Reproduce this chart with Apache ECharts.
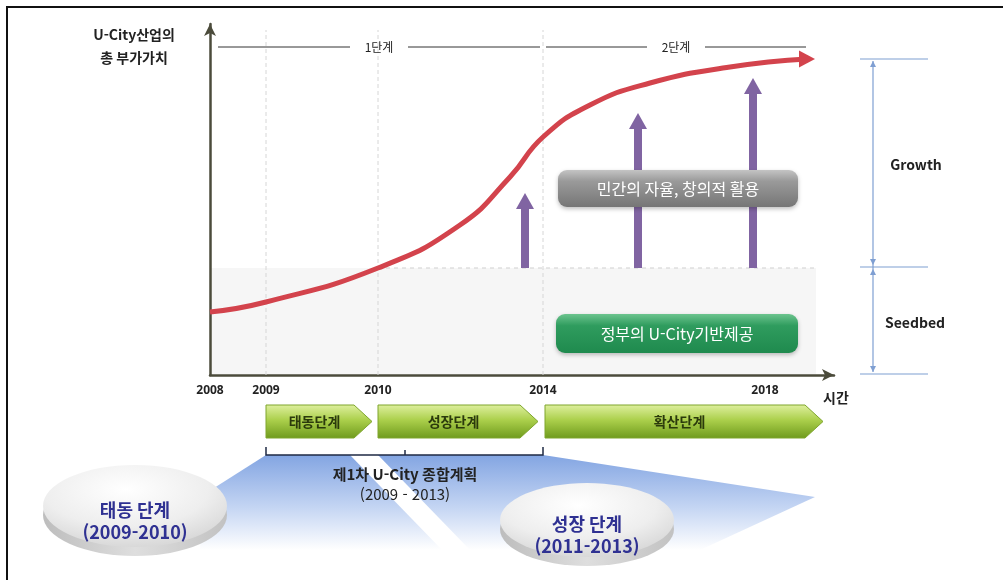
<!DOCTYPE html>
<html lang="ko">
  <head>
    <meta charset="UTF-8" />
    <title>U-City 산업 단계</title>
    <script src="https://cdn.jsdelivr.net/npm/echarts@6/dist/echarts.min.js"></script>
    <style>
      html, body { margin: 0; padding: 0; background: #fff; }
      #chart { width: 1003px; height: 580px; }
    </style>
  </head>
  <body>
    <div id="chart"></div>
    <script>
      // 축 눈금 (연도) 과 위치
      const tickLabels = ['2008', '2009', '2010', '2014', '2018']
      const tickPos = [0, 56, 168, 333, 555]
      const gridYears = ['2009', '2010', '2014']

      // 총 부가가치 곡선
      const curveX = [0, 56, 168, 250, 300, 333, 380, 440, 520, 597]
      const curveY = [63, 73, 107, 150, 198, 238, 270, 292, 308, 316]

      // 민간 참여 화살표
      const pushX = [315, 428, 543]
      const pushTop = [182, 262, 297]
      const seedbedLevel = 107

      // 단계 구분
      const stageNames = ['1단계', '2단계']
      const stageFrom = [8, 336]
      const stageTo = [330, 596]

      const phaseNames = ['태동단계', '성장단계', '확산단계']

      const FONT = '"Noto Sans CJK KR", "Noto Sans", sans-serif'
      const chart = echarts.init(document.getElementById('chart'))

      const xOf = year => tickPos[tickLabels.indexOf(year)]

      const curveData = curveX.map((x, i) => [x, curveY[i]])
      curveData[curveData.length - 1] = {
        value: curveData[curveData.length - 1],
        symbol: 'triangle',
        symbolSize: [17, 16],
        symbolRotate: -90
      }

      const greenGrad = new echarts.graphic.LinearGradient(0, 0, 0, 1, [
        { offset: 0, color: '#dff0a0' },
        { offset: 0.45, color: '#acd04c' },
        { offset: 1, color: '#6e9a1c' }
      ])
      const blueGrad = new echarts.graphic.LinearGradient(0, 0, 0, 1, [
        { offset: 0, color: '#83a5e2' },
        { offset: 0.55, color: '#c4d5f3' },
        { offset: 1, color: '#ffffff' }
      ])
      const diskGrad = new echarts.graphic.RadialGradient(0.45, 0.3, 0.75, [
        { offset: 0, color: '#ffffff' },
        { offset: 0.6, color: '#eeeeee' },
        { offset: 1, color: '#d4d4d4' }
      ])
      const rimGrad = new echarts.graphic.LinearGradient(0, 0, 1, 0, [
        { offset: 0, color: '#bdbdbd' },
        { offset: 0.5, color: '#dedede' },
        { offset: 1, color: '#c2c2c2' }
      ])

      function chevron(x1, x2, label) {
        const d = 18
        return [
          {
            type: 'polygon',
            shape: { points: [[x1, 405], [x2 - d, 405], [x2, 421.5], [x2 - d, 438], [x1, 438]] },
            style: { fill: greenGrad, stroke: '#7ea52c', lineWidth: 1 }
          },
          {
            type: 'text',
            style: {
              text: label, x: (x1 + x2 - d / 2) / 2, y: 422, align: 'center', verticalAlign: 'middle',
              fill: '#2b3a0c', font: 'bold 14px ' + FONT
            }
          }
        ]
      }

      function disk(cx, cy, rx, ry, line1, line2) {
        return [
          { type: 'circle', x: cx, y: cy + 9, scaleY: ry / rx, shape: { cx: 0, cy: 0, r: rx }, style: { fill: rimGrad } },
          { type: 'circle', x: cx, y: cy, scaleY: ry / rx, shape: { cx: 0, cy: 0, r: rx }, style: { fill: diskGrad } },
          {
            type: 'text',
            style: { text: line1, x: cx, y: cy + 4, align: 'center', verticalAlign: 'middle', fill: '#2f3192', font: 'bold 18px ' + FONT }
          },
          {
            type: 'text',
            style: { text: line2, x: cx, y: cy + 26, align: 'center', verticalAlign: 'middle', fill: '#2f3192', font: 'bold 18px ' + FONT }
          }
        ]
      }

      function txt(text, x, y, font, fill) {
        return { type: 'text', z: 20, style: { text, x, y, align: 'center', verticalAlign: 'middle', fill: fill || '#222', font: font + ' ' + FONT } }
      }

      const dimColor = '#7f9fd2'

      const option = {
        animation: false,
        grid: { left: 210, top: 24, width: 624, height: 351 },
        xAxis: {
          type: 'value',
          min: 0,
          max: 624,
          axisLine: { lineStyle: { color: '#4b4b3b', width: 2.5 }, symbol: ['none', 'arrow'], symbolSize: [9, 12] },
          axisTick: { show: false },
          splitLine: { show: false },
          axisLabel: {
            customValues: tickPos,
            formatter: v => tickLabels[tickPos.indexOf(v)],
            margin: 10,
            color: '#222',
            fontSize: 12,
            fontWeight: 'bold',
            fontFamily: '"Noto Sans", sans-serif'
          }
        },
        yAxis: {
          type: 'value',
          min: 0,
          max: 351,
          axisLine: { show: true, lineStyle: { color: '#4b4b3b', width: 2.5 }, symbol: ['none', 'arrow'], symbolSize: [9, 12] },
          axisTick: { show: false },
          axisLabel: { show: false },
          splitLine: { show: false }
        },
        series: [
          {
            // Seedbed 영역
            type: 'custom',
            z: 0,
            clip: false,
            data: [[curveX[curveX.length - 1] + 8, seedbedLevel]],
            renderItem(params, api) {
              const a = api.coord([0, 0])
              const b = api.coord([api.value(0), api.value(1)])
              const c = api.coord([xOf('2010'), api.value(1)])
              return {
                type: 'group',
                children: [
                  { type: 'rect', shape: { x: a[0] + 1, y: b[1], width: b[0] - a[0], height: a[1] - b[1] - 1 }, style: { fill: '#f6f6f6' } },
                  { type: 'line', shape: { x1: c[0], y1: b[1], x2: b[0], y2: b[1] }, style: { stroke: '#cfcfcf', lineWidth: 1, lineDash: [4, 4] } }
                ]
              }
            }
          },
          {
            // 연도 구분선
            type: 'custom',
            z: 1,
            data: gridYears.map(y => [xOf(y)]),
            renderItem(params, api) {
              const a = api.coord([api.value(0), 0])
              const b = api.coord([api.value(0), 345])
              return { type: 'line', shape: { x1: a[0], y1: a[1], x2: b[0], y2: b[1] }, style: { stroke: '#d6d6d6', lineWidth: 1, lineDash: [4, 3] } }
            }
          },
          {
            // 1단계 / 2단계
            type: 'custom',
            z: 1,
            data: stageNames.map((n, i) => [stageFrom[i], stageTo[i], n]),
            renderItem(params, api) {
              const a = api.coord([api.value(0), 328])
              const b = api.coord([api.value(1), 328])
              const mid = (a[0] + b[0]) / 2
              const s = { stroke: '#333', lineWidth: 1 }
              return {
                type: 'group',
                children: [
                  { type: 'line', shape: { x1: a[0], y1: a[1], x2: mid - 29, y2: a[1] }, style: s },
                  { type: 'line', shape: { x1: mid + 29, y1: a[1], x2: b[0], y2: a[1] }, style: s },
                  { type: 'text', style: { text: stageNames[params.dataIndex], x: mid, y: a[1], align: 'center', verticalAlign: 'middle', fill: '#222', font: '12px ' + FONT } }
                ]
              }
            }
          },
          {
            // 민간 참여 화살표
            type: 'custom',
            z: 2,
            data: pushX.map((x, i) => [x, seedbedLevel, pushTop[i]]),
            renderItem(params, api) {
              const base = api.coord([api.value(0), api.value(1)])
              const tip = api.coord([api.value(0), api.value(2)])
              const c = '#8064a2'
              return {
                type: 'group',
                children: [
                  { type: 'rect', shape: { x: base[0] - 4, y: tip[1] + 14, width: 8, height: base[1] - tip[1] - 14 }, style: { fill: c } },
                  { type: 'polygon', shape: { points: [[tip[0], tip[1]], [tip[0] + 9, tip[1] + 16], [tip[0] - 9, tip[1] + 16]] }, style: { fill: c } }
                ]
              }
            }
          },
          {
            name: '총 부가가치',
            type: 'line',
            z: 3,
            data: curveData,
            smooth: 0.5,
            symbol: 'none',
            showSymbol: true,
            itemStyle: { color: '#d3434c' },
            lineStyle: { color: '#d3434c', width: 5 }
          }
        ],
        graphic: [
          // 외곽 테두리 (오른쪽 끝은 화면 밖)
          { type: 'rect', shape: { x: 7, y: 7, width: 1010, height: 600 }, style: { fill: 'none', stroke: '#111', lineWidth: 2 } },
          txt('U-City산업의', 134, 35, 'bold 14px'),
          txt('총 부가가치', 134, 58, 'bold 14px'),
          txt('시간', 836, 398, 'bold 14px'),
          // 오른쪽 치수선
          { type: 'line', shape: { x1: 860, y1: 59, x2: 928, y2: 59 }, style: { stroke: dimColor, lineWidth: 1.2 } },
          { type: 'line', shape: { x1: 860, y1: 267, x2: 928, y2: 267 }, style: { stroke: dimColor, lineWidth: 1.2 } },
          { type: 'line', shape: { x1: 860, y1: 374, x2: 928, y2: 374 }, style: { stroke: dimColor, lineWidth: 1.2 } },
          { type: 'line', shape: { x1: 873, y1: 61, x2: 873, y2: 372 }, style: { stroke: dimColor, lineWidth: 1.2 } },
          { type: 'polygon', shape: { points: [[873, 61], [870, 67], [876, 67]] }, style: { fill: dimColor } },
          { type: 'polygon', shape: { points: [[873, 265], [870, 259], [876, 259]] }, style: { fill: dimColor } },
          { type: 'polygon', shape: { points: [[873, 269], [870, 275], [876, 275]] }, style: { fill: dimColor } },
          { type: 'polygon', shape: { points: [[873, 372], [870, 366], [876, 366]] }, style: { fill: dimColor } },
          txt('Growth', 916, 165, 'bold 14px'),
          txt('Seedbed', 915, 323, 'bold 14px'),
          // 설명 박스
          {
            type: 'rect',
            z: 10,
            shape: { x: 558, y: 170, width: 240, height: 37, r: 9 },
            style: {
              fill: new echarts.graphic.LinearGradient(0, 0, 0, 1, [
                { offset: 0, color: '#c4c4c4' }, { offset: 0.3, color: '#9a9a9a' }, { offset: 1, color: '#767676' }
              ]),
              shadowBlur: 4, shadowColor: 'rgba(0,0,0,0.25)', shadowOffsetY: 2
            }
          },
          txt('민간의 자율, 창의적 활용', 678, 189, '16px', '#ffffff'),
          {
            type: 'rect',
            z: 10,
            shape: { x: 556, y: 314, width: 242, height: 39, r: 9 },
            style: {
              fill: new echarts.graphic.LinearGradient(0, 0, 0, 1, [
                { offset: 0, color: '#6cc48e' }, { offset: 0.3, color: '#2f9c5e' }, { offset: 1, color: '#1f8a4e' }
              ]),
              shadowBlur: 4, shadowColor: 'rgba(0,0,0,0.25)', shadowOffsetY: 2
            }
          },
          txt('정부의 U-City기반제공', 677, 334, '16px', '#ffffff'),
          // 파란 음영
          { type: 'polygon', shape: { points: [[266, 455], [350, 455], [442, 550], [200, 550], [203, 495]] }, style: { fill: blueGrad } },
          { type: 'polygon', shape: { points: [[378, 455], [543, 455], [815, 497], [700, 550], [470, 550]] }, style: { fill: blueGrad } },
          // 단계 화살표
          ...chevron(266, 372, phaseNames[0]),
          ...chevron(378, 538, phaseNames[1]),
          ...chevron(545, 823, phaseNames[2]),
          // 괄호
          { type: 'polyline', shape: { points: [[266, 447], [266, 455], [543, 455], [543, 447]] }, style: { stroke: '#1f2a44', lineWidth: 1.5, fill: 'none' } },
          { type: 'line', shape: { x1: 405, y1: 455, x2: 405, y2: 450 }, style: { stroke: '#1f2a44', lineWidth: 1.5 } },
          txt('제1차 U-City 종합계획', 405, 474, 'bold 15px'),
          txt('(2009 - 2013)', 405, 494, '15px'),
          // 원판
          ...disk(135, 506, 92, 41, '태동 단계', '(2009-2010)'),
          ...disk(587, 520, 87, 37, '성장 단계', '(2011-2013)')
        ]
      }

      chart.setOption(option)
    </script>
  </body>
</html>
